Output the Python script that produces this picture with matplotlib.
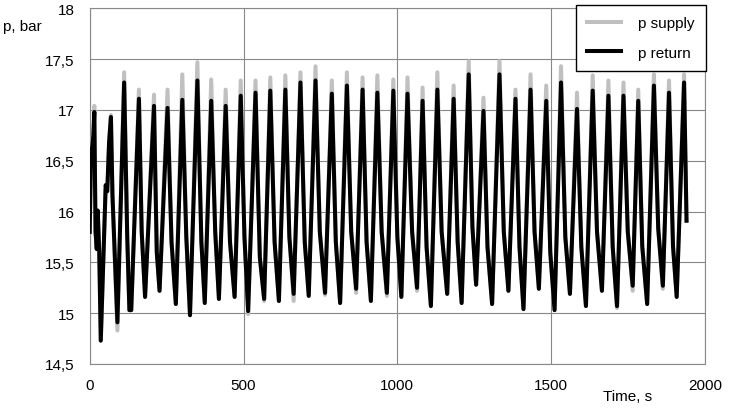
import matplotlib
matplotlib.use("Agg")
import matplotlib.pyplot as plt

# ---- data ----
time_s = [0, 4, 12, 15, 19, 23, 26, 31, 36, 42, 52, 57, 63, 69, 74, 90,
          112, 122, 129, 135, 160, 169, 180, 209, 218, 227,
          253, 266, 280, 301, 314, 326, 350, 363, 374, 395, 408, 420,
          442, 456, 471, 491, 503, 515, 539, 553, 567, 587, 601, 615,
          636, 649, 663, 685, 699, 712, 734, 748, 765, 787, 800, 814,
          836, 850, 866, 887, 900, 914, 935, 949, 966, 987, 1000, 1013,
          1033, 1048, 1064, 1082, 1095, 1109, 1130, 1144, 1162, 1183, 1196, 1209,
          1232, 1244, 1256, 1280, 1293, 1308, 1332, 1346, 1361, 1384, 1397, 1410,
          1433, 1446, 1460, 1484, 1497, 1511, 1532, 1546, 1561, 1584, 1598, 1613,
          1635, 1649, 1665, 1686, 1700, 1714, 1735, 1749, 1765, 1783, 1796, 1812,
          1834, 1848, 1863, 1883, 1896, 1908, 1932, 1940]

p_return = [15.80, 16.52, 16.75, 16.98, 15.80, 15.63, 16.01, 15.60, 14.73, 15.30, 16.26, 16.20, 16.68, 16.93, 16.16, 14.91,
            17.27, 15.75, 15.03, 15.03, 17.11, 15.80, 15.16, 17.04, 15.60, 15.22,
            17.02, 15.70, 15.09, 17.10, 15.75, 14.98, 17.29, 15.70, 15.10, 17.09, 15.80, 15.14,
            17.04, 15.70, 15.16, 17.14, 15.75, 15.02, 17.17, 15.55, 15.14, 17.19, 15.70, 15.12,
            17.20, 15.75, 15.19, 17.27, 15.70, 15.17, 17.29, 15.80, 15.20, 17.16, 15.70, 15.10,
            17.24, 15.80, 15.24, 17.20, 15.70, 15.12, 17.17, 15.80, 15.20, 17.19, 15.75, 15.16,
            17.16, 15.80, 15.25, 17.09, 15.65, 15.07, 17.20, 15.80, 15.19, 17.11, 15.70, 15.10,
            17.35, 15.85, 15.28, 16.99, 15.65, 15.09, 17.35, 15.80, 15.22, 17.11, 15.65, 15.04,
            17.20, 15.80, 15.24, 17.09, 15.60, 15.03, 17.27, 15.75, 15.19, 17.01, 15.65, 15.07,
            17.19, 15.80, 15.22, 17.14, 15.65, 15.07, 17.14, 15.80, 15.27, 17.09, 15.66, 15.09,
            17.24, 15.83, 15.27, 17.17, 15.66, 15.16, 17.27, 15.91]

p_supply = [15.80, 16.52, 16.80, 17.04, 15.80, 15.63, 16.01, 15.60, 14.73, 15.30, 16.26, 16.20, 16.68, 16.95, 16.16, 14.83,
            17.37, 15.75, 15.03, 15.03, 17.20, 15.80, 15.16, 17.15, 15.60, 15.22,
            17.20, 15.70, 15.09, 17.35, 15.75, 14.98, 17.47, 15.70, 15.10, 17.30, 15.80, 15.14,
            17.20, 15.70, 15.16, 17.29, 15.75, 14.99, 17.29, 15.55, 15.12, 17.32, 15.70, 15.12,
            17.34, 15.75, 15.12, 17.37, 15.70, 15.17, 17.43, 15.80, 15.18, 17.29, 15.70, 15.10,
            17.37, 15.80, 15.20, 17.32, 15.70, 15.12, 17.34, 15.80, 15.17, 17.30, 15.75, 15.16,
            17.32, 15.80, 15.22, 17.22, 15.65, 15.07, 17.37, 15.80, 15.19, 17.24, 15.70, 15.10,
            17.48, 15.85, 15.28, 17.12, 15.65, 15.09, 17.48, 15.80, 15.22, 17.20, 15.65, 15.04,
            17.35, 15.80, 15.24, 17.24, 15.60, 15.03, 17.43, 15.75, 15.19, 17.17, 15.65, 15.07,
            17.34, 15.80, 15.22, 17.29, 15.65, 15.05, 17.27, 15.80, 15.22, 17.20, 15.66, 15.09,
            17.35, 15.83, 15.24, 17.29, 15.66, 15.16, 17.35, 15.91]

x_ticks = [0, 500, 1000, 1500, 2000]
y_ticks = [14.5, 15, 15.5, 16, 16.5, 17, 17.5, 18]
y_tick_labels = ["14,5", "15", "15,5", "16", "16,5", "17", "17,5", "18"]
series_labels = ["p supply", "p return"]

# ---- figure ----
plt.rcParams['font.family'] = ['Liberation Sans', 'DejaVu Sans']
fig = plt.figure(figsize=(7.29, 4.14), dpi=100)
ax = fig.add_axes([89.7 / 729, 1 - 365 / 414, (705 - 89.7) / 729, (365 - 9.3) / 414])

grid_c = '#888888'
ax.plot(time_s, p_supply, color='#c0c0c0', lw=2.9, solid_joinstyle='round',
        label=series_labels[0], zorder=3)
ax.plot(time_s, p_return, color='black', lw=2.9, solid_joinstyle='round',
        label=series_labels[1], zorder=4)

ax.set_xlim(0, 2000)
ax.set_ylim(14.5, 18)
ax.set_xticks(x_ticks)
ax.set_xticklabels([str(v) for v in x_ticks])
ax.set_yticks(y_ticks)
ax.set_yticklabels(y_tick_labels)
ax.grid(True, color=grid_c, lw=0.8)
ax.set_axisbelow(True)
for s in ax.spines.values():
    s.set_color(grid_c)
    s.set_linewidth(0.8)
ax.tick_params(length=0, labelsize=11, colors='black')
ax.tick_params(axis='x', pad=10)
ax.tick_params(axis='y', pad=11)

fig.text(3 / 729, 1 - 27 / 414, 'p, bar', fontsize=11, ha='left', va='center')
fig.text(603 / 729, 1 - 397 / 414, 'Time, s', fontsize=11, ha='left', va='center')

leg = ax.legend(loc='upper left', bbox_to_anchor=(576 / 729, 1 - 6 / 414),
                bbox_transform=fig.transFigure, fontsize=11, frameon=True,
                fancybox=False, framealpha=1, edgecolor='black',
                handlelength=2.2, handletextpad=1.1, borderpad=0.75,
                labelspacing=1.0, borderaxespad=0)
leg.get_frame().set_linewidth(1.0)
leg.set_zorder(10)

fig.savefig('out.png', dpi=100)
